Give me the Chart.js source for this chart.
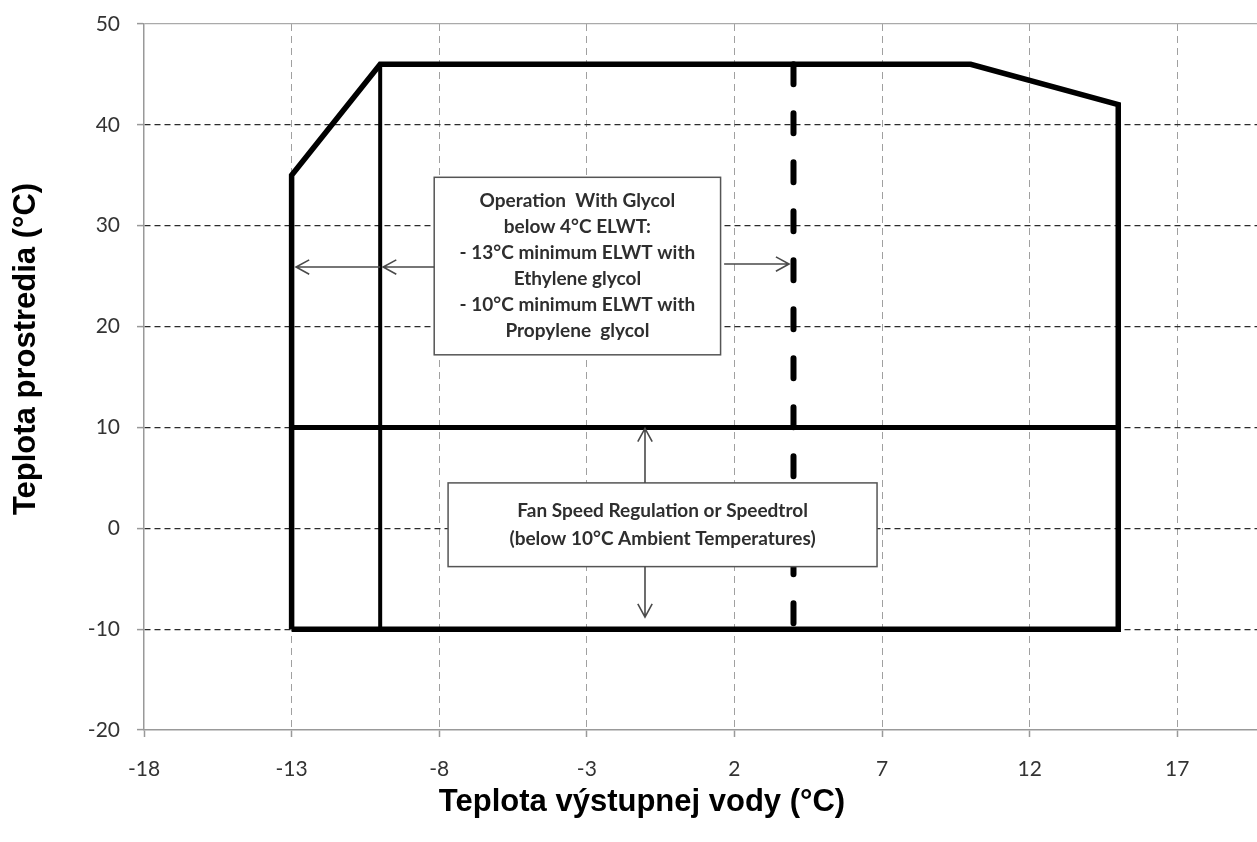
<!DOCTYPE html>
<html>
<head>
<meta charset="utf-8">
<script src="https://cdn.jsdelivr.net/npm/chart.js@4.4.1/dist/chart.umd.min.js"></script>
<style>
    html, body { margin: 0; padding: 0; background: #fff; }
    #wrap { width: 1257px; height: 842px; }
</style>
</head>
<body>
<div id="wrap"><canvas id="chart" width="1257" height="842"></canvas></div>
<script>
// ticks
const xTicks = [-18, -13, -8, -3, 2, 7, 12, 17];
const yTicks = [-20, -10, 0, 10, 20, 30, 40, 50];

// hranica prevadzky (obalka)
const envelopeX = [-13, -13, -10, 10, 15, 15, -13];
const envelopeY = [-10, 35, 46, 46, 42, -10, -10];
// hranica glykolu
const glycolLimitX = [-10, -10];
const glycolLimitY = [-10, 46];
// regulacia ventilatora
const fanLimitX = [-13, 15];
const fanLimitY = [10, 10];
// 4°C ELWT
const elwtLimitX = [4, 4];
const elwtLimitY = [46, -10];

const glycolNote = ['Operation  With Glycol', 'below 4°C ELWT:', '- 13°C minimum ELWT with', 'Ethylene glycol', '- 10°C minimum ELWT with', 'Propylene  glycol'];
const fanNote = ['Fan Speed Regulation or Speedtrol', '(below 10°C Ambient Temperatures)'];
const xTitle = 'Teplota výstupnej vody (°C)';
const yTitle = 'Teplota prostredia (°C)';

// poznamky a sipky v jednotkach osi
const notes = [
    { lines: glycolNote, x0: -8.17, x1: 1.53, y0: 34.8, y1: 17.2, lineH: 26 },
    { lines: fanNote, x0: -7.70, x1: 6.83, y0: 4.5, y1: -3.8, lineH: 28 }
];
const arrows = [
    { from: [-8.17, 25.9], to: [-9.9, 25.9] },
    { from: [-10, 25.9], to: [-12.85, 25.9] },
    { from: [1.65, 26.2], to: [3.85, 26.2] },
    { from: [-1.03, 4.5], to: [-1.03, 9.9] },
    { from: [-1.03, -3.8], to: [-1.03, -8.8] }
];

const pts = (xs, ys) => xs.map((x, i) => ({ x: x, y: ys[i] }));

function drawArrow(ctx, x1, y1, x2, y2) {
    const ang = Math.atan2(y2 - y1, x2 - x1);
    const len = 15, spread = 0.5;
    ctx.beginPath();
    ctx.moveTo(x1, y1);
    ctx.lineTo(x2, y2);
    ctx.moveTo(x2 - len * Math.cos(ang - spread), y2 - len * Math.sin(ang - spread));
    ctx.lineTo(x2, y2);
    ctx.lineTo(x2 - len * Math.cos(ang + spread), y2 - len * Math.sin(ang + spread));
    ctx.stroke();
}

const notesPlugin = {
    id: 'notes',
    afterDatasetsDraw(chart) {
        const { ctx, scales: { x, y } } = chart;
        ctx.save();
        notes.forEach(n => {
            const left = x.getPixelForValue(n.x0), right = x.getPixelForValue(n.x1);
            const top = y.getPixelForValue(n.y0), bottom = y.getPixelForValue(n.y1);
            ctx.fillStyle = '#fff';
            ctx.fillRect(left, top, right - left, bottom - top);
            ctx.strokeStyle = '#555';
            ctx.lineWidth = 1.5;
            ctx.strokeRect(left, top, right - left, bottom - top);
            ctx.fillStyle = '#2e2e2e';
            ctx.font = 'bold 19px Lato';
            ctx.textAlign = 'center';
            ctx.textBaseline = 'middle';
            const cx = (left + right) / 2, cy = (top + bottom) / 2;
            const start = cy - (n.lines.length - 1) * n.lineH / 2;
            n.lines.forEach((t, i) => ctx.fillText(t, cx, start + i * n.lineH));
        });
        ctx.strokeStyle = '#4a4a4a';
        ctx.lineWidth = 1.6;
        arrows.forEach(a => {
            drawArrow(ctx,
                x.getPixelForValue(a.from[0]), y.getPixelForValue(a.from[1]),
                x.getPixelForValue(a.to[0]), y.getPixelForValue(a.to[1]));
        });
        ctx.restore();
    },
    afterDraw(chart) {
        const ctx = chart.ctx;
        ctx.save();
        ctx.fillStyle = '#000';
        ctx.font = 'bold 31px "Liberation Sans", Arial';
        ctx.textAlign = 'center';
        ctx.textBaseline = 'middle';
        ctx.fillText(xTitle, 642, 802);
        ctx.translate(26, 349);
        ctx.rotate(-Math.PI / 2);
        ctx.fillText(yTitle, 0, 0);
        ctx.restore();
    }
};

const lineDefaults = { showLine: true, pointRadius: 0, fill: false, tension: 0, borderColor: '#000', borderJoinStyle: 'miter' };

new Chart(document.getElementById('chart').getContext('2d'), {
    type: 'scatter',
    data: {
        datasets: [
            { ...lineDefaults, data: pts(envelopeX, envelopeY), borderWidth: 5.5 },
            { ...lineDefaults, data: pts(glycolLimitX, glycolLimitY), borderWidth: 4 },
            { ...lineDefaults, data: pts(fanLimitX, fanLimitY), borderWidth: 5 },
            { ...lineDefaults, data: pts(elwtLimitX, elwtLimitY), borderWidth: 6, borderDash: [20, 29], borderCapStyle: 'round' }
        ]
    },
    options: {
        responsive: false,
        animation: false,
        layout: { padding: { top: 24, right: 0, bottom: 0, left: 0 } },
        plugins: { legend: { display: false }, tooltip: { enabled: false } },
        scales: {
            x: {
                type: 'linear', position: 'bottom', min: -18, max: 19.7,
                afterBuildTicks: s => { s.ticks = xTicks.map(v => ({ value: v })); },
                afterFit: s => { s.height = 112; },
                grid: {
                    color: c => (c.tick && c.tick.value === -18) ? 'rgba(0,0,0,0)' : '#a0a0a0',
                    lineWidth: 1, tickLength: 7, tickColor: '#999', tickWidth: 1.5
                },
                border: { display: true, color: '#999', width: 1.5, dash: [7, 5] },
                ticks: { font: { family: 'Lato', size: 21 }, color: '#333', padding: 20, maxRotation: 0, autoSkip: false }
            },
            y: {
                min: -20, max: 50,
                afterBuildTicks: s => { s.ticks = yTicks.map(v => ({ value: v })); },
                afterFit: s => { s.width = 144; s.paddingTop = 0; s.paddingBottom = 0; },
                grid: {
                    color: c => {
                        if (c.tick && c.tick.value === -20) return 'rgba(0,0,0,0)';
                        if (c.tick && c.tick.value === 50) return '#aaa';
                        return '#2b2b2b';
                    },
                    lineWidth: 1.2, tickLength: 7, tickColor: '#999', tickWidth: 1.5
                },
                border: {
                    color: '#999', width: 1.5,
                    dash: c => (c.tick && c.tick.value === 50) ? [] : [6, 4]
                },
                ticks: { font: { family: 'Lato', size: 21 }, color: '#333', padding: 17 }
            }
        }
    },
    plugins: [notesPlugin]
});
</script>
</body>
</html>
